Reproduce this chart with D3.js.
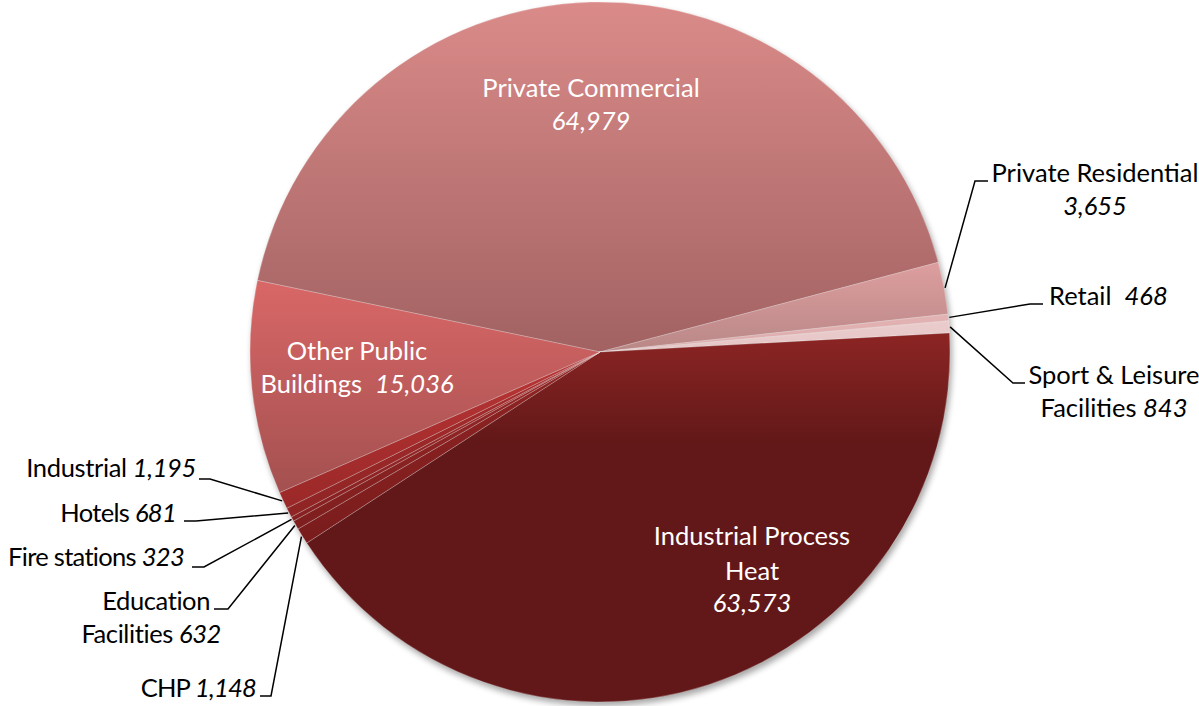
<!DOCTYPE html>
<html>
<head>
<meta charset="utf-8">
<script src="https://cdn.jsdelivr.net/npm/d3@7"></script>
<style>
  html, body { margin: 0; padding: 0; background: #fff; }
  svg { display: block; }
  text { font-family: Lato, "Open Sans", sans-serif; }
</style>
</head>
<body>
<svg id="chart" width="1199" height="706"></svg>
<script>
// ---- data ----
const categories = ["Private Commercial", "Private Residential", "Retail", "Sport & Leisure Facilities",
  "Industrial Process Heat", "CHP", "Education Facilities", "Fire stations", "Hotels", "Industrial",
  "Other Public Buildings"];
const values = [64979, 3655, 468, 843, 63573, 1148, 632, 323, 681, 1195, 15036];
const valueLabels = ["64,979", "3,655", "468", "843", "63,573", "1,148", "632", "323", "681", "1,195", "15,036"];

// ---- styles (gradient top / bottom per slice) ----
const colorTop = ["#da8b89", "#dd9e9e", "#e3b3b3", "#ebcccc", "#8c2524", "#922424", "#9c2828", "#a42a2a", "#ac2e2e", "#bb3535", "#d96767"];
const colorBot = ["#a26262", "#b98787", "#dcaaaa", "#e5c5c5", "#621818", "#7a1c1c", "#7e1e1e", "#862020", "#8e2424", "#9a2828", "#a45050"];

// label layout: lines of segments [text, italic], anchor, x, y ; leader polyline points after slice edge
const labelLayout = [
  {lines: [[["Private Commercial", 0]], [["64,979", 1]]], anchor: "middle", x: 591, y: 97, fill: "#fff"},
  {lines: [[["Private Residential", 0]], [["3,655", 1]]], anchor: "middle", x: 1095, y: 182, fill: "#000", leader: [[975, 181], [988, 181]]},
  {lines: [[["Retail  ", 0], ["468", 1]]], anchor: "start", x: 1049, y: 305, fill: "#000", leader: [[1030, 304], [1043, 304]]},
  {lines: [[["Sport & Leisure", 0]], [["Facilities ", 0], ["843", 1]]], anchor: "middle", x: 1114, y: 384, fill: "#000", leader: [[1013, 383], [1025, 383]]},
  {lines: [[["Industrial Process", 0]], [["Heat", 0]], [["63,573", 1]]], anchor: "middle", x: 752, y: 545, fill: "#fff", lh: [35, 32]},
  {lines: [[["CHP ", 0], ["1,148", 1]]], anchor: "end", x: 256, y: 697, fill: "#000", ls: -0.8, leader: [[271, 696], [260, 696]]},
  {lines: [[["Education", 0]], [["Facilities ", 0], ["632", 1]]], anchor: "end", x: 210, y: 610, fill: "#000", ls: -0.4, dxLine: [11], leader: [[228, 609], [214, 609]]},
  {lines: [[["Fire stations ", 0], ["323", 1]]], anchor: "end", x: 184, y: 566, fill: "#000", ls: -0.7, leader: [[204, 567], [192, 567]]},
  {lines: [[["Hotels ", 0], ["681", 1]]], anchor: "end", x: 176, y: 522, fill: "#000", ls: -0.7, leader: [[196, 521], [184, 521]]},
  {lines: [[["Industrial ", 0], ["1,195", 1]]], anchor: "end", x: 196, y: 477, fill: "#000", ls: -0.35, leader: [[210, 479], [199, 479]]},
  {lines: [[["Other Public", 0]], [["Buildings  ", 0], ["15,036", 1]]], anchor: "middle", x: 357, y: 360, fill: "#fff"}
];

const W = 1199, H = 706;
const cx = 600, cy = 352, R = 350;
const fontSize = 25.5;

const svg = d3.select("#chart");
const defs = svg.append("defs");

// shadow
const f = defs.append("filter").attr("id", "shadow").attr("x", "-10%").attr("y", "-10%").attr("width", "120%").attr("height", "120%");
f.append("feGaussianBlur").attr("stdDeviation", 3);

const data = categories.map((c, i) => ({name: c, value: values[i], i}));

const pie = d3.pie().sort(null).value(d => d.value)
  .startAngle(-78.2 * Math.PI / 180)
  .endAngle(-78.2 * Math.PI / 180 + 2 * Math.PI);
const arcs = pie(data);
const arc = d3.arc().innerRadius(0).outerRadius(R);

data.forEach((d, i) => {
  const g = defs.append("linearGradient").attr("id", "grad" + i)
    .attr("x1", 0).attr("y1", 0).attr("x2", 0).attr("y2", 1);
  if (i === 4) {
    g.append("stop").attr("offset", "0%").attr("stop-color", colorTop[i]);
    g.append("stop").attr("offset", "30%").attr("stop-color", colorBot[i]);
    g.append("stop").attr("offset", "100%").attr("stop-color", colorBot[i]);
  } else {
    g.append("stop").attr("offset", "0%").attr("stop-color", colorTop[i]);
    g.append("stop").attr("offset", "100%").attr("stop-color", colorBot[i]);
  }
});

const root = svg.append("g").attr("transform", `translate(${cx},${cy})`);

root.append("circle").attr("cx", 2).attr("cy", 4).attr("r", R)
  .attr("fill", "#000").attr("opacity", 0.35).attr("filter", "url(#shadow)");

root.selectAll("path.slice").data(arcs).enter().append("path")
  .attr("class", "slice")
  .attr("d", arc)
  .attr("fill", d => `url(#grad${d.data.i})`)
  .attr("stroke", "rgba(255,255,255,0.35)")
  .attr("stroke-width", 0.7)
  .attr("stroke-linejoin", "round");

// leader lines
const edgeArc = d3.arc().innerRadius(R + 1).outerRadius(R + 1);
arcs.forEach((a, i) => {
  const L = labelLayout[i];
  if (!L.leader) return;
  const c = edgeArc.centroid(a);
  const pts = [[cx + c[0], cy + c[1]]].concat(L.leader);
  svg.append("path")
    .attr("d", d3.line()(pts))
    .attr("fill", "none").attr("stroke", "#000").attr("stroke-width", 1.5);
});

// labels
labelLayout.forEach((L, i) => {
  const t = svg.append("text")
    .attr("text-anchor", L.anchor)
    .attr("font-size", fontSize)
    .attr("letter-spacing", L.ls || 0)
    .attr("fill", L.fill);
  let y = L.y;
  L.lines.forEach((line, li) => {
    if (li > 0) y += (L.lh ? L.lh[li - 1] : 33);
    let x = L.x;
    if (li > 0 && L.dxLine) x = L.x + L.dxLine[li - 1];
    line.forEach((seg, si) => {
      const ts = t.append("tspan").text(seg[0])
        .attr("font-style", seg[1] ? "italic" : "normal")
        .attr("xml:space", "preserve");
      if (si === 0) { ts.attr("x", x).attr("y", y); }
    });
  });
});
</script>
</body>
</html>
